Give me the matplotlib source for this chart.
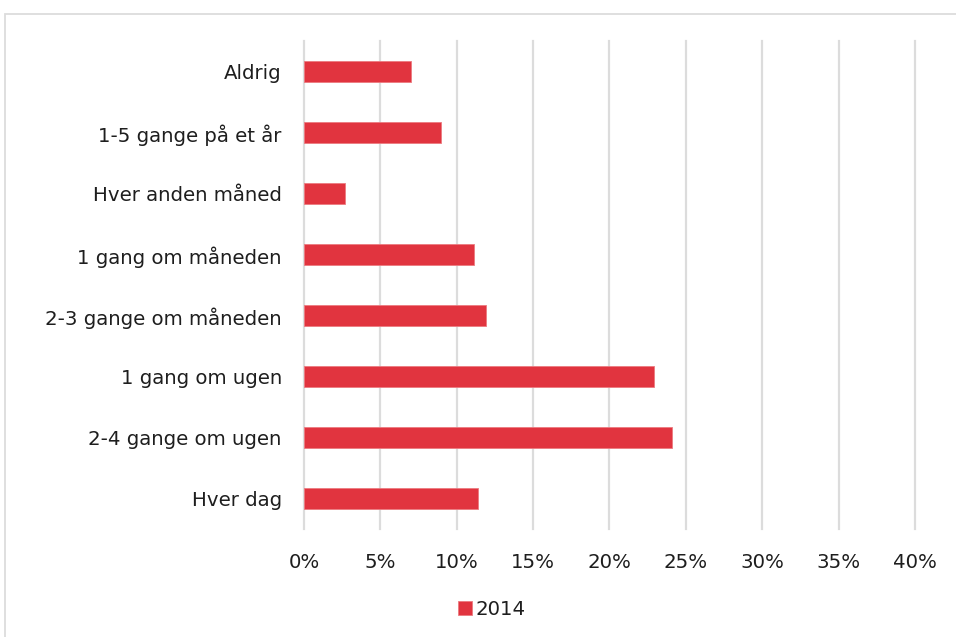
import matplotlib.pyplot as plt
from matplotlib.patches import Rectangle
from matplotlib.ticker import PercentFormatter

# Hvor ofte - andel af svar, 2014
kategorier = ['Aldrig', '1-5 gange på et år', 'Hver anden måned', '1 gang om måneden',
              '2-3 gange om måneden', '1 gang om ugen', '2-4 gange om ugen', 'Hver dag']
andel_2014 = [7.0, 9.0, 2.7, 11.1, 11.9, 22.9, 24.1, 11.4]
x_ticks = [0, 5, 10, 15, 20, 25, 30, 35, 40]

RED = '#e1343f'
GRID = '#dcdcdc'
TEXT = '#1e1e1e'

plt.rcParams['font.family'] = ['DejaVu Sans']

fig = plt.figure(figsize=(9.56, 6.37), dpi=100)
ax = fig.add_axes([0.318, 0.169, 0.639, 0.766])

# tynd grå ramme om hele diagrammet
fig.add_artist(Rectangle((5 / 956, -0.05), 1.1, 1 - 13.5 / 637 + 0.05,
                         transform=fig.transFigure, fill=False,
                         edgecolor=GRID, linewidth=1.3))

y = range(len(kategorier))
ax.barh(y, andel_2014, height=0.345, color=RED, edgecolor='#ec7a80',
        linewidth=0.6, label='2014', zorder=3)

ax.set_xlim(0, 40)
ax.set_ylim(len(kategorier) - 0.5, -0.5)
ax.set_xticks(x_ticks)
ax.xaxis.set_major_formatter(PercentFormatter(decimals=0))
ax.set_yticks(list(y))
ax.set_yticklabels(kategorier)

ax.grid(axis='x', color=GRID, linewidth=1.6, zorder=0)
for gl in ax.get_xgridlines():
    gl.set_clip_on(False)
for s in ax.spines.values():
    s.set_visible(False)
ax.tick_params(axis='both', length=0, labelsize=14.2, colors=TEXT)
ax.tick_params(axis='y', pad=16)
ax.tick_params(axis='x', pad=17)

leg = ax.legend(loc='upper center', bbox_to_anchor=(0.308, -0.108), frameon=False,
                fontsize=14.2, handlelength=0.7, handleheight=0.7, handletextpad=0.2,
                labelcolor=TEXT)

fig.savefig('out.png', dpi=100, facecolor='white')
